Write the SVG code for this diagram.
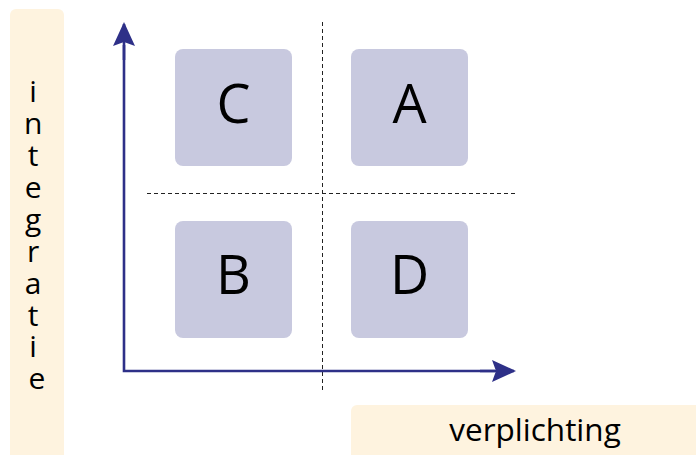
<svg xmlns="http://www.w3.org/2000/svg" width="696" height="455" viewBox="0 0 696 455">
  <defs>
    <style>
      .lbl { fill: #fef3df; }
      .box { fill: #c8c9df; }
      .txt { font-family: "Open Sans", "Noto Sans", sans-serif; fill: #000; }
      .big { font-size: 54px; text-anchor: middle; }
      .axis { stroke: #2e3088; stroke-width: 2.6; fill: none; }
      .dash { stroke: #222; stroke-width: 1; stroke-dasharray: 4 3; fill: none; }
    </style>
    <marker id="arr" viewBox="0 0 24 22" refX="22" refY="11" markerWidth="24" markerHeight="22" markerUnits="userSpaceOnUse" orient="auto">
      <path d="M0,0 L24,11 L0,22 L4,11 Z" fill="#2e3088"/>
    </marker>
  </defs>
  <rect width="696" height="455" fill="#fff"/>

  <g id="label-integratie">
    <rect class="lbl" x="10" y="9" width="54" height="460" rx="6"/>
    <text class="txt" font-size="30" text-anchor="middle">
      <tspan x="37" y="102">i</tspan>
      <tspan x="37" y="134">n</tspan>
      <tspan x="37" y="166">t</tspan>
      <tspan x="37" y="198">e</tspan>
      <tspan x="37" y="230">g</tspan>
      <tspan x="37" y="262">r</tspan>
      <tspan x="37" y="294">a</tspan>
      <tspan x="37" y="326">t</tspan>
      <tspan x="37" y="357">i</tspan>
      <tspan x="37" y="389">e</tspan>
    </text>
  </g>

  <g id="label-verplichting">
    <rect class="lbl" x="351" y="405" width="360" height="70" rx="6"/>
    <text class="txt" x="535" y="441" font-size="31.5" text-anchor="middle">verplichting</text>
  </g>

  <g id="connectors">
    <line class="dash" x1="322.5" y1="22" x2="322.5" y2="392"/>
    <line class="dash" x1="147" y1="193.5" x2="516" y2="193.5"/>
    <polyline class="axis" points="124,45 124,371 495,371"/>
    <line class="axis" x1="124" y1="60" x2="124" y2="24" marker-end="url(#arr)"/>
    <line class="axis" x1="480" y1="371" x2="514" y2="371" marker-end="url(#arr)"/>
  </g>

  <g id="node-C">
    <rect class="box" x="175" y="49" width="117" height="117" rx="8"/>
    <text class="txt big" x="233.5" y="123">C</text>
  </g>
  <g id="node-A">
    <rect class="box" x="351" y="49" width="117" height="117" rx="8"/>
    <text class="txt big" x="409.5" y="123">A</text>
  </g>
  <g id="node-B">
    <rect class="box" x="175" y="221" width="117" height="117" rx="8"/>
    <text class="txt big" x="233.5" y="294">B</text>
  </g>
  <g id="node-D">
    <rect class="box" x="351" y="221" width="117" height="117" rx="8"/>
    <text class="txt big" x="409.5" y="294">D</text>
  </g>
</svg>
